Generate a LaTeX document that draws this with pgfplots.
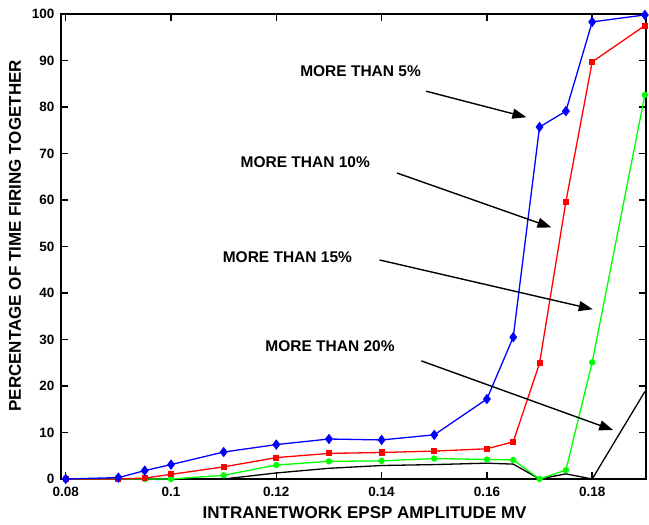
\documentclass[border=0pt]{standalone}
\usepackage{pgfplots}
\pgfplotsset{compat=1.18}
\usetikzlibrary{arrows.meta}
\usepackage{fontspec}
\setmainfont{Liberation Sans}
\begin{document}
\begin{tikzpicture}
\begin{axis}[
  scale only axis, width=585pt, height=465pt,
  xmin=0.0791, xmax=0.19022, ymin=0, ymax=100,
  xtick={0.08,0.1,0.12,0.14,0.16,0.18},
  xticklabels={0.08,0.1,0.12,0.14,0.16,0.18},
  scaled x ticks=false,
  ytick={0,10,20,30,40,50,60,70,80,90,100},
  tick align=inside, tick pos=both,
  major tick length=7pt,
  axis line style={line width=2.2pt},
  every tick/.style={line width=1.4pt, black},
  ticklabel style={font=\bfseries\fontsize{13.5}{13.5}\selectfont},
  xticklabel style={yshift=-5pt},
  yticklabel style={xshift=-3pt},
  /pgf/number format/assume math mode=true,
  xlabel={INTRANETWORK EPSP AMPLITUDE MV},
  ylabel={PERCENTAGE OF TIME FIRING TOGETHER},
  label style={font=\bfseries\fontsize{17}{17}\selectfont},
  xlabel style={at={(axis description cs:0.519,-0.0731)}, anchor=center},
  ylabel style={at={(axis description cs:-0.0785,0.523)}, anchor=center},
  clip=false,
]
\coordinate (ll) at (rel axis cs:0,0);
\coordinate (ur) at (rel axis cs:1,1);
\addplot[black, line width=1.3pt] coordinates {
(0.08,0) (0.09,0) (0.095,0) (0.1,0) (0.11,0) (0.12,1.3) (0.13,2.3) (0.14,2.9) (0.15,3.1) (0.16,3.4) (0.165,3.2) (0.17,0) (0.175,1.1) (0.18,0) (0.19,18.8)};
\addplot[green, line width=1.3pt, mark=*, mark size=2.5pt] coordinates {
(0.08,0) (0.09,0) (0.095,0) (0.1,0) (0.11,0.8) (0.12,3.0) (0.13,3.8) (0.14,3.9) (0.15,4.4) (0.16,4.2) (0.165,4.1) (0.17,0) (0.175,1.9) (0.18,25.1) (0.19,82.6)};
\addplot[red, line width=1.3pt, mark=square*, mark size=2.4pt] coordinates {
(0.08,0) (0.09,0) (0.095,0.2) (0.1,1.0) (0.11,2.6) (0.12,4.6) (0.13,5.5) (0.14,5.7) (0.15,6.0) (0.16,6.5) (0.165,8.0) (0.17,24.9) (0.175,59.6) (0.18,89.7) (0.19,97.5)};
\addplot[blue, line width=1.3pt, mark=diamond*, mark size=4.2pt] coordinates {
(0.08,0) (0.09,0.3) (0.095,1.8) (0.1,3.1) (0.11,5.8) (0.12,7.4) (0.13,8.6) (0.14,8.4) (0.15,9.5) (0.16,17.2) (0.165,30.5) (0.17,75.7) (0.175,79.1) (0.18,98.3) (0.19,99.8)};

\begin{scope}[font=\bfseries\fontsize{15.5}{15.5}\selectfont]
\node at (axis cs:0.1360,87.7) {MORE THAN 5\%};
\node at (axis cs:0.1255,68.1) {MORE THAN 10\%};
\node at (axis cs:0.1221,47.6) {MORE THAN 15\%};
\node at (axis cs:0.1302,28.6) {MORE THAN 20\%};
\end{scope}
\begin{scope}[line width=1.4pt, -{Triangle[length=14pt,width=10pt]}]
\draw (axis cs:0.14844,83.4) -- (axis cs:0.16751,77.8);
\draw (axis cs:0.14293,65.8) -- (axis cs:0.17226,54.1);
\draw (axis cs:0.13962,47.1) -- (axis cs:0.18011,36.5);
\draw (axis cs:0.14755,25.4) -- (axis cs:0.18399,10.5);
\end{scope}
\end{axis}
\pgfresetboundingbox
\path ([shift={(-61pt,-46pt)}]ll) rectangle ([shift={(3pt,14pt)}]ur);
\end{tikzpicture}
\end{document}
